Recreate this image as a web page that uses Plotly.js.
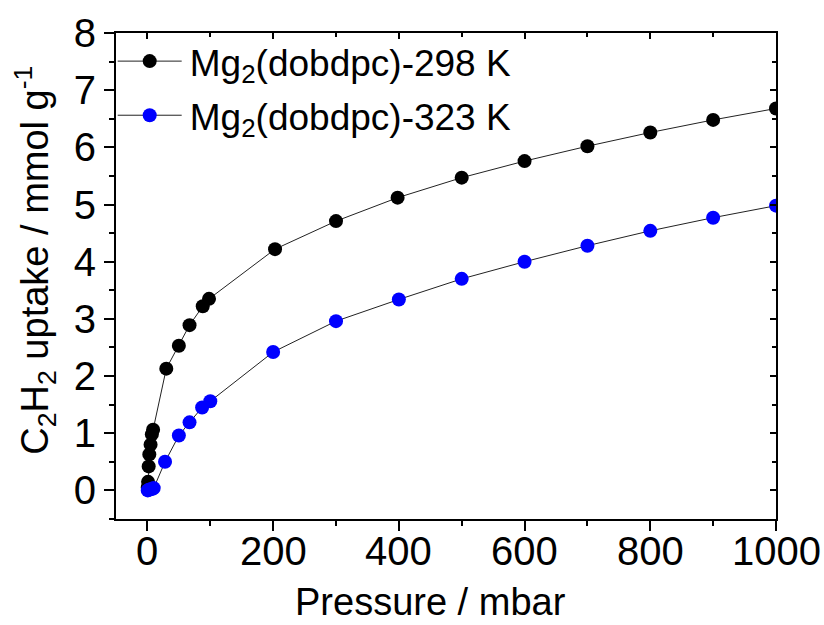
<!DOCTYPE html>
<html><head><meta charset="utf-8">
<script src="https://cdn.plot.ly/plotly-3.0.1.min.js"></script>
<style>html,body{margin:0;padding:0;background:#fff}#chart{width:824px;height:625px}</style>
</head><body><div id="chart"></div>
<script>
const seriesNames = ['\u200AMg<sub>2</sub>(dobdpc)-298 K', '\u200AMg<sub>2</sub>(dobdpc)-323 K'];
const p298 = [0.5, 1, 2, 3, 5, 7, 9, 30, 50, 67, 88, 98, 203, 300, 398, 500, 600, 700, 800, 900, 1000];
const u298 = [0.05, 0.15, 0.42, 0.63, 0.8, 0.98, 1.06, 2.13, 2.53, 2.89, 3.22, 3.35, 4.22, 4.71, 5.12, 5.47, 5.76, 6.02, 6.26, 6.48, 6.68];
const p323 = [0.5, 2, 5, 8, 10, 28, 50, 67, 87, 100, 200, 300, 400, 500, 600, 700, 800, 900, 1000];
const u323 = [0.0, 0.01, 0.02, 0.03, 0.04, 0.5, 0.96, 1.19, 1.45, 1.56, 2.42, 2.96, 3.34, 3.70, 4.00, 4.28, 4.54, 4.77, 4.98];
const xTickVals = [0, 200, 400, 600, 800, 1000];
const xTickText = ['0', '200', '400', '600', '800', '1000'];
const yTickVals = [0, 1, 2, 3, 4, 5, 6, 7, 8];

const font = 'Arial, "Liberation Sans", sans-serif';
const traces = [
  {x: p298, y: u298, name: seriesNames[0], mode: 'lines+markers', legendgroup: 'a',
   line: {color: '#222', width: 1}, marker: {color: '#000', size: 14}},
  {x: p323, y: u323, name: seriesNames[1], mode: 'lines+markers', legendgroup: 'b',
   line: {color: '#222', width: 1}, marker: {color: '#0000ff', size: 14}}
];
const axCommon = {showgrid: false, zeroline: false, showline: true, linecolor: '#000', linewidth: 2,
  tickcolor: '#000', tickwidth: 2, ticklen: 10};
const xLabelAnns = xTickVals.map((v, i) => ({
  x: v, y: 0, xref: 'x', yref: 'paper', text: xTickText[i], showarrow: false,
  xanchor: 'center', yanchor: 'top', yshift: -8, font: {size: 40, family: font, color: '#000'}
}));
const layout = {
  width: 824, height: 625,
  margin: {l: 116, r: 48, t: 33, b: 106},
  paper_bgcolor: '#fff', plot_bgcolor: '#fff',
  font: {family: font, color: '#000'},
  showlegend: true,
  legend: {x: -0.005, y: 1.005, xanchor: 'left', yanchor: 'top', bgcolor: 'rgba(0,0,0,0)',
    font: {size: 37, family: font}, itemwidth: 64, traceorder: 'grouped', tracegroupgap: 3},
  xaxis: Object.assign({}, axCommon, {range: [-50, 1000], tickvals: xTickVals, ticks: 'outside',
    showticklabels: false,
    minor: {dtick: 100, ticks: 'outside', ticklen: 5, tickwidth: 2, tickcolor: '#000'},
    title: {text: 'Pressure / mbar&nbsp;&nbsp;&nbsp;', font: {size: 38}, standoff: 58}}),
  yaxis: Object.assign({}, axCommon, {range: [-0.5, 8], tickvals: yTickVals, ticks: 'outside',
    tickfont: {size: 40}, minor: {dtick: 0.5, ticks: 'outside', ticklen: 5, tickwidth: 2, tickcolor: '#000'},
    title: {text: '&nbsp;&nbsp;&nbsp;C<sub>2</sub>H<sub>2</sub> uptake / mmol g<sup>-1</sup>', font: {size: 38}, standoff: 13}}),
  xaxis2: Object.assign({}, axCommon, {overlaying: 'x', matches: 'x', side: 'top', range: [-50, 1000],
    tickvals: xTickVals, ticks: 'inside', ticklen: 6, showticklabels: false,
    minor: {dtick: 100, ticks: 'inside', ticklen: 4, tickwidth: 2, tickcolor: '#000'}}),
  yaxis2: Object.assign({}, axCommon, {overlaying: 'y', matches: 'y', side: 'right', range: [-0.5, 8],
    tickvals: yTickVals, ticks: 'inside', ticklen: 6, showticklabels: false,
    minor: {dtick: 0.5, ticks: 'inside', ticklen: 4, tickwidth: 2, tickcolor: '#000'}}),
  annotations: xLabelAnns
};
traces.push({x: [null], y: [null], xaxis: 'x2', yaxis: 'y2', showlegend: false, hoverinfo: 'skip'});
Plotly.newPlot('chart', traces, layout, {displayModeBar: false, staticPlot: true});
</script></body></html>
